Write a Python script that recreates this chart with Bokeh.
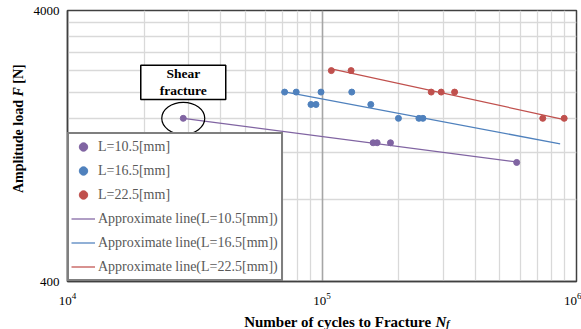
from bokeh.plotting import figure
from bokeh.models import (Range1d, FixedTicker, PrintfTickFormatter, LogTickFormatter,
                          Grid, Legend, LegendItem, Label)
from bokeh.layouts import row, column
from bokeh.embed import file_html
from bokeh.resources import INLINE
import math

# ---------------- data ----------------
series_labels = ["L=10.5[mm]", "L=16.5[mm]", "L=22.5[mm]"]
line_labels = ["Approximate line(L=10.5[mm])", "Approximate line(L=16.5[mm])",
               "Approximate line(L=22.5[mm])"]

n_105 = [28500, 158800, 164700, 185800, 582000]
f_105 = [1600, 1300, 1300, 1300, 1100]

n_165 = [71300, 79200, 90500, 94700, 99100, 130900, 155500, 199700, 240300, 249200]
f_165 = [2000, 2000, 1800, 1800, 2000, 2000, 1800, 1600, 1600, 1600]

n_225 = [108800, 130100, 268600, 294000, 331900, 736900, 894500]
f_225 = [2400, 2400, 2000, 2000, 2000, 1600, 1600]

# approximate (fitted) lines: end points
line_n_105 = [28500, 582000]
line_f_105 = [1600, 1105]
line_n_165 = [71300, 862600]
line_f_165 = [2005, 1288]
line_n_225 = [108800, 894500]
line_f_225 = [2438, 1584]

x_ticks = [1e4, 1e5, 1e6]
y_ticks = [400, 4000]
x_minor_grid = [2e4, 3e4, 4e4, 5e4, 6e4, 7e4, 8e4, 9e4,
                2e5, 3e5, 4e5, 5e5, 6e5, 7e5, 8e5, 9e5]
x_major_grid = [1e5]
y_grid = [800, 1200, 1600, 2000, 2400, 2800, 3200, 3600]

shear_text = "Shear\nfracture"
x_title = ["Number of cycles to Fracture", "N", "f"]
y_title = ["Amplitude load", "F", "[N]"]

# ---------------- styling ----------------
PURPLE = "#8064A2"
BLUE = "#4F81BD"
RED = "#C0504D"
FONT = "Liberation Serif"
FRAME = "#404040"

W, H = 581, 329
YT_W = 30          # width of the strip holding the y title
XT_H = 17          # height of the strip holding the x title
P_W, P_H = W - YT_W, H - XT_H

p = figure(width=P_W, height=P_H, x_axis_type="log", y_axis_type="log",
           x_range=Range1d(1e4, 1e6), y_range=Range1d(400, 4000),
           output_backend="svg", toolbar_location=None,
           min_border_left=36, min_border_right=5, min_border_top=10,
           min_border_bottom=31)
p.background_fill_color = "white"
p.border_fill_color = "white"
p.outline_line_color = FRAME
p.outline_line_width = 1.5

# axes
for ax in (p.xaxis[0], p.yaxis[0]):
    ax.major_tick_line_color = None
    ax.minor_tick_line_color = None
    ax.major_tick_out = 0
    ax.major_tick_in = 0
    ax.minor_tick_out = 0
    ax.minor_tick_in = 0
    ax.axis_line_color = FRAME
    ax.axis_line_width = 1.5
    ax.major_label_text_font = FONT
    ax.major_label_text_font_size = "13px"
    ax.major_label_text_color = "black"
    ax.axis_label = None

p.xaxis.ticker = FixedTicker(ticks=x_ticks)
p.xaxis.formatter = LogTickFormatter()
p.xaxis.major_label_standoff = 11
p.yaxis.ticker = FixedTicker(ticks=y_ticks)
p.yaxis.formatter = PrintfTickFormatter(format="%d")
p.yaxis.major_label_standoff = 8

# grids
p.xgrid.ticker = FixedTicker(ticks=x_minor_grid)
p.xgrid.grid_line_color = "#D9D9D9"
p.xgrid.grid_line_width = 1.3
p.ygrid.ticker = FixedTicker(ticks=y_grid)
p.ygrid.grid_line_color = "#D9D9D9"
p.ygrid.grid_line_width = 1.3
major_grid = Grid(dimension=0, ticker=FixedTicker(ticks=x_major_grid),
                  grid_line_color="#A6A6A6", grid_line_width=1.6)
p.add_layout(major_grid)

# approximate lines
rl105 = p.line(line_n_105, line_f_105, line_color=PURPLE, line_width=1.25)
rl165 = p.line(line_n_165, line_f_165, line_color=BLUE, line_width=1.25)
rl225 = p.line(line_n_225, line_f_225, line_color=RED, line_width=1.25)

# data points
rs105 = p.scatter(n_105, f_105, size=6, fill_color=PURPLE, line_color=PURPLE)
rs165 = p.scatter(n_165, f_165, size=6, fill_color=BLUE, line_color=BLUE)
rs225 = p.scatter(n_225, f_225, size=6, fill_color=RED, line_color=RED)

# shear fracture annotation
p.ellipse(x=[n_105[0]], y=[f_105[0]], width=43, height=32,
          width_units="screen", height_units="screen",
          fill_color=None, line_color="black", line_width=1.2)
shear = Label(x=n_105[0], y=f_105[0], y_offset=36, text=shear_text,
              text_align="center", text_baseline="middle",
              text_font=FONT, text_font_style="bold", text_font_size="13.5px",
              text_line_height=1.15, text_color="black",
              border_line_color="black", border_line_width=1.5,
              background_fill_color="white", background_fill_alpha=1.0,
              padding=dict(x=19, y=1))
p.add_layout(shear)

# legend
legend = Legend(items=[
    LegendItem(label=series_labels[0], renderers=[rs105]),
    LegendItem(label=series_labels[1], renderers=[rs165]),
    LegendItem(label=series_labels[2], renderers=[rs225]),
    LegendItem(label=line_labels[0], renderers=[rl105]),
    LegendItem(label=line_labels[1], renderers=[rl165]),
    LegendItem(label=line_labels[2], renderers=[rl225]),
], location=(0, 0), margin=0, padding=2, spacing=3,
    label_height=21, glyph_height=21, glyph_width=24, label_standoff=3,
    label_width=181,
    label_text_font=FONT, label_text_font_size="14px", label_text_color="#595959",
    border_line_color="black", border_line_width=2,
    background_fill_color="white", background_fill_alpha=1.0)
p.add_layout(legend)


# ---------------- axis titles in their own strips ----------------
def strip(width, height):
    f = figure(width=width, height=height, output_backend="svg",
               toolbar_location=None, x_axis_location=None, y_axis_location=None,
               x_range=Range1d(0, width), y_range=Range1d(0, height),
               min_border=0, outline_line_color=None)
    f.grid.visible = False
    f.background_fill_color = "white"
    f.border_fill_color = "white"
    return f


def piece(fig, text, x, y, style, size, angle=0.0):
    fig.add_layout(Label(x=x, y=y, x_units="screen", y_units="screen", text=text,
                         text_font=FONT, text_font_style=style,
                         text_font_size=size, text_color="black",
                         text_align="left", text_baseline="middle", angle=angle))


# the y strip's frame is aligned with the chart frame (bottom at the 400 line)
ytf = strip(YT_W, P_H)
piece(ytf, y_title[0], 18.3, 88.5, "bold", "14px", angle=math.pi / 2)
piece(ytf, y_title[1], 18.3, 185.0, "bold italic", "14px", angle=math.pi / 2)
piece(ytf, y_title[2], 18.3, 197.8, "bold", "14px", angle=math.pi / 2)

xtf = strip(W, XT_H)
piece(xtf, x_title[0], 243.7, 8.0, "bold", "15px")
piece(xtf, x_title[1], 435.0, 8.0, "bold italic", "15px")
piece(xtf, x_title[2], 445.8, 5.8, "bold italic", "10px")

root = column(row(ytf, p, spacing=0), xtf, spacing=0)

open("out.html", "w").write(file_html(root, INLINE))
